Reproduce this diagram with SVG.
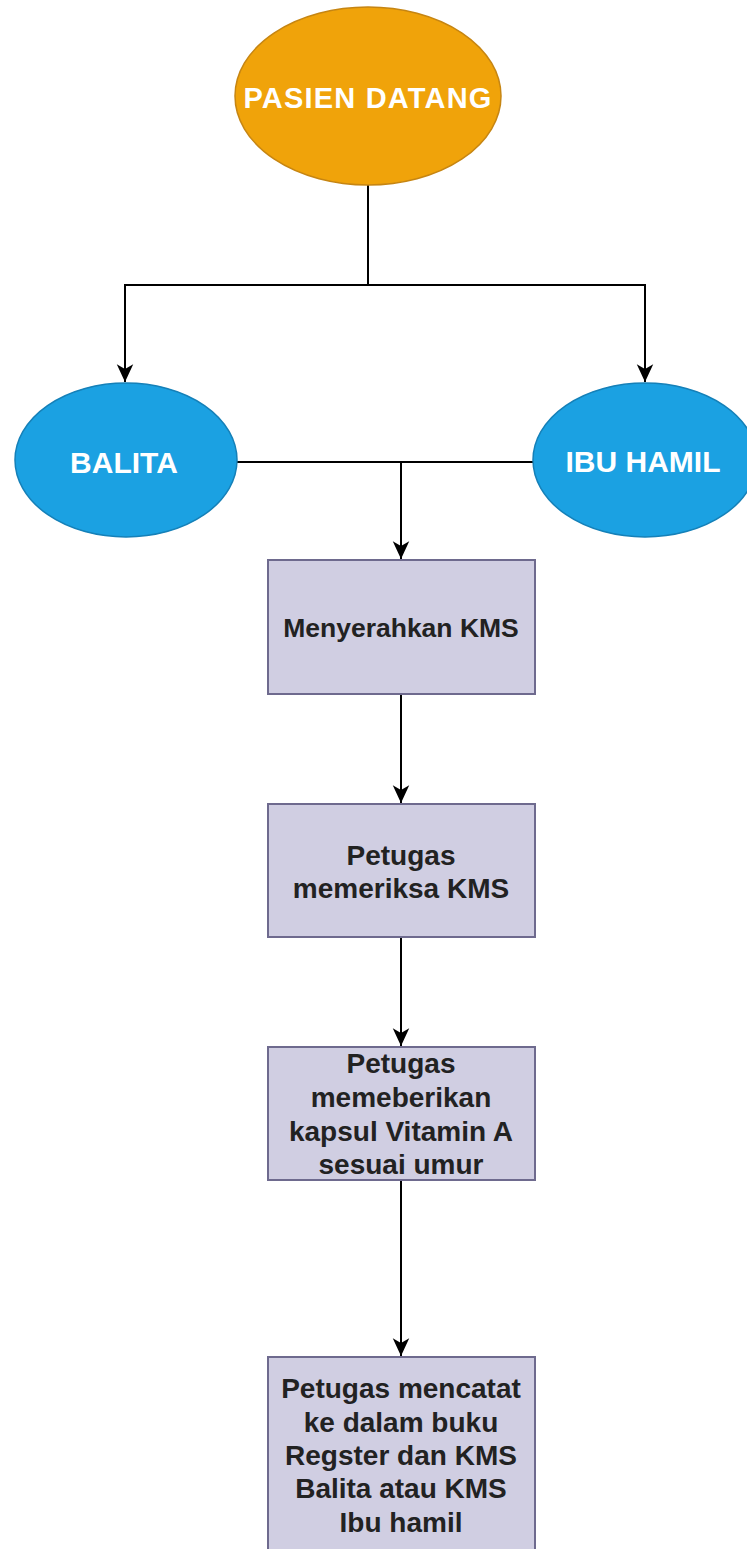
<svg xmlns="http://www.w3.org/2000/svg" width="747" height="1549" viewBox="0 0 747 1549">
<defs>
<style>
.ln{fill:none;stroke:#000;stroke-width:2}
.box{fill:#d0cee2;stroke:#6e6a8e;stroke-width:2}
.tw{font-family:"Liberation Sans",Arial,sans-serif;font-weight:bold;fill:#fff;text-anchor:middle;font-size:30px}
.tb{font-family:"Liberation Sans",Arial,sans-serif;font-weight:bold;fill:#222;text-anchor:middle;font-size:28px}
</style>
<marker id="arr" markerUnits="userSpaceOnUse" markerWidth="20" markerHeight="20" viewBox="-16 -8 17 16" refX="0" refY="0" orient="auto">
<path d="M0,0 L-15,-7 L-11,0 L-15,7 Z" fill="#000"/>
</marker>
</defs>
<rect width="747" height="1549" fill="#fff"/>
<g id="connectors">
<path class="ln" d="M368,185 V285 H125 V382" marker-end="url(#arr)"/>
<path class="ln" d="M368,285 H645 V382" marker-end="url(#arr)"/>
<path class="ln" d="M237,462 H401 V559" marker-end="url(#arr)"/>
<path class="ln" d="M533,462 H401"/>
<path class="ln" d="M401,694 V803" marker-end="url(#arr)"/>
<path class="ln" d="M401,937 V1046" marker-end="url(#arr)"/>
<path class="ln" d="M401,1180 V1356" marker-end="url(#arr)"/>
</g>
<g id="pasien">
<ellipse cx="368" cy="96" rx="133" ry="89" fill="#f0a30a" stroke="#c68512" stroke-width="1.5"/>
<text class="tw" x="368" y="108" style="font-size:29px;letter-spacing:1.2px">PASIEN DATANG</text>
</g>
<g id="balita">
<ellipse cx="126" cy="460" rx="111" ry="77" fill="#1ba1e2" stroke="#1580b8" stroke-width="1.5"/>
<text class="tw" x="124" y="473">BALITA</text>
</g>
<g id="ibuhamil">
<ellipse cx="645" cy="460" rx="112" ry="77" fill="#1ba1e2" stroke="#1580b8" stroke-width="1.5"/>
<text class="tw" x="643" y="472">IBU HAMIL</text>
</g>
<g id="menyerahkan">
<rect class="box" x="268" y="560" width="267" height="134"/>
<text class="tb" x="401" y="637" style="font-size:26.5px">Menyerahkan KMS</text>
</g>
<g id="memeriksa">
<rect class="box" x="268" y="804" width="267" height="133"/>
<text class="tb" x="401" y="865">Petugas</text>
<text class="tb" x="401" y="898">memeriksa KMS</text>
</g>
<g id="vitamin">
<rect class="box" x="268" y="1047" width="267" height="133"/>
<text class="tb" x="401" y="1073">Petugas</text>
<text class="tb" x="401" y="1107">memeberikan</text>
<text class="tb" x="401" y="1141">kapsul Vitamin A</text>
<text class="tb" x="401" y="1174">sesuai umur</text>
</g>
<g id="mencatat">
<rect class="box" x="268" y="1357" width="267" height="210"/>
<text class="tb" x="401" y="1398">Petugas mencatat</text>
<text class="tb" x="401" y="1432">ke dalam buku</text>
<text class="tb" x="401" y="1465">Regster dan KMS</text>
<text class="tb" x="401" y="1498">Balita atau KMS</text>
<text class="tb" x="401" y="1532">Ibu hamil</text>
</g>
</svg>
